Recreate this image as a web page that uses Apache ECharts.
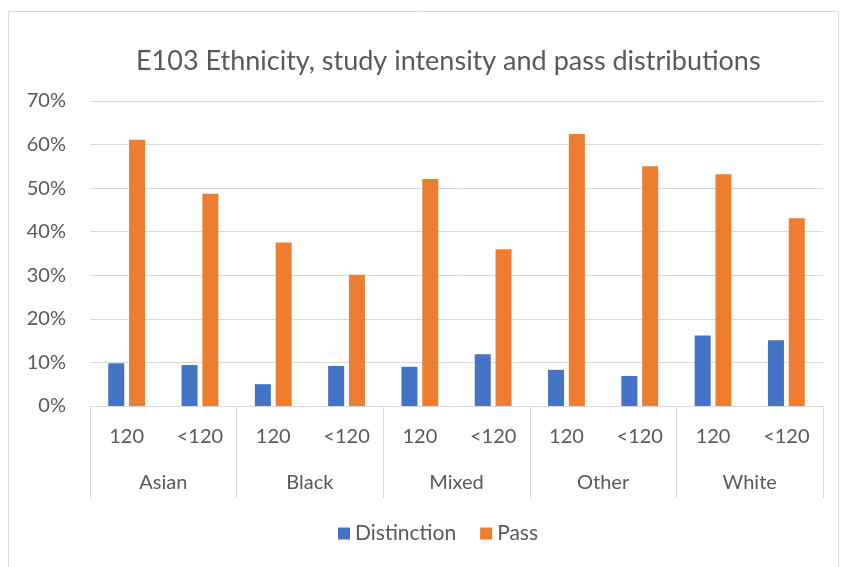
<!DOCTYPE html>
<html><head><meta charset="utf-8">
<script src="https://cdn.jsdelivr.net/npm/echarts@6/dist/echarts.min.js"></script>
<style>html,body{margin:0;padding:0;background:#fff}#c{width:846px;height:567px}</style>
</head><body><div id="c"></div>
<script>
const groups = ['Asian','Black','Mixed','Other','White'];
const subLabels = ['120','<120','120','<120','120','<120','120','<120','120','<120'];
const distinction = [0.098,0.094,0.050,0.092,0.090,0.119,0.083,0.069,0.162,0.151];
const pass = [0.611,0.487,0.375,0.301,0.521,0.360,0.624,0.550,0.532,0.431];
const yTicks = [0,0.1,0.2,0.3,0.4,0.5,0.6,0.7];

const font = 'Lato, "Open Sans", sans-serif';
const txt = '#595959';
const chart = echarts.init(document.getElementById('c'));
chart.setOption({
  animation:false,
  title:{text:'E103 Ethnicity, study intensity and pass distributions',left:131,top:43,
    textStyle:{fontFamily:font,fontSize:27,fontWeight:'normal',color:txt}},
  graphic:[{type:'rect',shape:{x:8.5,y:11.5,width:830,height:600},style:{fill:'none',stroke:'#d9d9d9',lineWidth:1},silent:true}],
  legend:{bottom:18,left:333,itemWidth:12,itemHeight:12,itemGap:24,icon:'rect',
    textStyle:{fontFamily:font,fontSize:21,color:txt},data:['Distinction','Pass']},
  grid:{left:90,right:23,top:101,bottom:161},
  xAxis:[{type:'category',data:subLabels,position:'bottom',
      axisLine:{lineStyle:{color:'#d9d9d9',width:1}},axisTick:{show:false},
      axisLabel:{interval:0,margin:21,fontFamily:font,fontSize:20,color:txt}},
    {type:'category',data:groups,position:'bottom',offset:0,
      axisLine:{show:false},
      axisTick:{show:true,length:92,interval:0,lineStyle:{color:'#d9d9d9'}},
      axisLabel:{interval:0,margin:67,fontFamily:font,fontSize:20,color:txt},
      splitLine:{show:false}}],
  yAxis:{type:'value',min:0,max:0.7,interval:0.1,
    axisLine:{show:false},axisTick:{show:false},
    splitLine:{lineStyle:{color:'#d9d9d9',width:1}},
    axisLabel:{margin:24,fontFamily:font,fontSize:20,color:txt,
      formatter:v=>{const t=yTicks.find(x=>Math.abs(x-v)<1e-9);return Math.round((t??v)*100)+'%';}}},
  series:[
    {name:'Distinction',type:'bar',xAxisIndex:0,data:distinction,barWidth:16,barGap:'30%',itemStyle:{color:'#4472C4'}},
    {name:'Pass',type:'bar',xAxisIndex:0,data:pass,barWidth:16,barGap:'30%',itemStyle:{color:'#ED7D31'}}
  ]
});
</script></body></html>
